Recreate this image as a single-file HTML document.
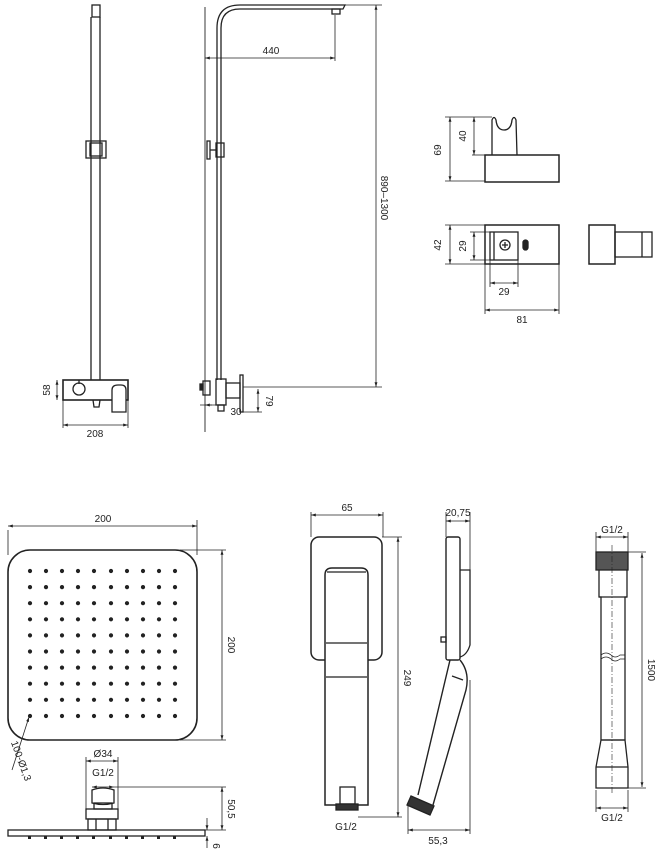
<!DOCTYPE html>
<html><head><meta charset="utf-8"><style>
html,body{margin:0;padding:0;background:#fff;}
svg{display:block;font-family:"Liberation Sans",sans-serif;}
</style></head><body>
<svg width="658" height="852" viewBox="0 0 658 852" xmlns="http://www.w3.org/2000/svg">
<defs>
<marker id="a" viewBox="0 0 10 10" refX="10" refY="5" markerWidth="6" markerHeight="6" orient="auto-start-reverse"><path d="M0,2 L10,5 L0,8 z" fill="#222"/></marker>
</defs>
<g fill="none" stroke="#222" stroke-width="1.3">
<!-- LEFT front column -->
<rect x="92" y="5" width="8" height="12"/>
<line x1="91" y1="17" x2="91" y2="380"/><line x1="100" y1="17" x2="100" y2="380"/>
<rect x="86" y="141" width="20" height="17"/><rect x="90" y="143" width="12" height="13"/>
<rect x="63" y="380" width="65" height="20" stroke-width="1.6"/>
<circle cx="79" cy="389" r="6"/><line x1="79" y1="380" x2="79" y2="384"/>
<path d="M112,412 L112,390 Q112,385 118,385 L121,385 Q126,385 126,390 L126,412 Z" fill="#fff"/>
<path d="M93,400 L94,407 L99,407 L100,400"/>
<!-- 58 -->
<g stroke-width="0.8"><line x1="57" y1="380" x2="57" y2="400" marker-start="url(#a)" marker-end="url(#a)"/>
<line x1="63" y1="400" x2="63" y2="428"/><line x1="128" y1="400" x2="128" y2="428"/>
<line x1="63" y1="425" x2="128" y2="425" marker-start="url(#a)" marker-end="url(#a)"/></g>

<!-- MIDDLE side column -->
<line x1="205" y1="7" x2="205" y2="432" stroke-width="0.9"/>
<path d="M217,380 L217,28 Q217,5 240,5 L345,5 L343,9 L240,9 Q221,9 221,28 L221,380"/>
<rect x="332" y="9" width="8" height="5"/>
<rect x="216" y="143" width="8" height="14"/><rect x="207" y="141" width="3" height="18"/><line x1="210" y1="150" x2="216" y2="150"/>
<rect x="216" y="379" width="10" height="26"/><rect x="226" y="383" width="14" height="15"/><rect x="240" y="375" width="3" height="37"/>
<rect x="203" y="381" width="7" height="14"/><rect x="200" y="384" width="3" height="6" fill="#222"/>
<rect x="218" y="405" width="6" height="6"/>
<g stroke-width="0.8">
<line x1="205" y1="58" x2="335" y2="58" marker-start="url(#a)" marker-end="url(#a)"/>
<line x1="335" y1="15" x2="335" y2="61"/>
<line x1="345" y1="5" x2="382" y2="5"/><line x1="243" y1="387" x2="382" y2="387"/>
<line x1="376" y1="5" x2="376" y2="387" marker-start="url(#a)" marker-end="url(#a)"/>
<line x1="243" y1="412" x2="262" y2="412"/>
<line x1="258" y1="389" x2="258" y2="412" marker-start="url(#a)" marker-end="url(#a)"/>
<line x1="200" y1="405" x2="218" y2="405"/><line x1="212" y1="405" x2="205" y2="405" marker-end="url(#a)"/>
</g>

<!-- Holder top view -->
<rect x="485" y="155" width="74" height="27" stroke-width="1.5"/>
<path d="M492,155 L492,120 Q494,115 496,120 Q497,130 504,130 Q511,130 512,120 Q514,115 516,120 L517,155"/>
<g stroke-width="0.8">
<line x1="450" y1="117" x2="450" y2="181" marker-start="url(#a)" marker-end="url(#a)"/>
<line x1="445" y1="117" x2="492" y2="117"/><line x1="445" y1="181" x2="485" y2="181"/>
<line x1="474" y1="117" x2="474" y2="155" marker-start="url(#a)" marker-end="url(#a)"/>
<line x1="472" y1="155" x2="485" y2="155"/></g>
<!-- Holder front -->
<rect x="485" y="225" width="74" height="39" stroke-width="1.5"/>
<rect x="490" y="232" width="28" height="28"/><line x1="494" y1="232" x2="494" y2="260"/>
<circle cx="505" cy="245" r="5"/><path d="M502,245 H508 M505,242 V248"/>
<rect x="523" y="240" width="5" height="10" rx="2.5" fill="#222"/>
<g stroke-width="0.8">
<line x1="450" y1="225" x2="450" y2="264" marker-start="url(#a)" marker-end="url(#a)"/>
<line x1="445" y1="225" x2="485" y2="225"/><line x1="445" y1="264" x2="485" y2="264"/>
<line x1="474" y1="232" x2="474" y2="260" marker-start="url(#a)" marker-end="url(#a)"/>
<line x1="470" y1="232" x2="490" y2="232"/><line x1="470" y1="260" x2="490" y2="260"/>
<line x1="490" y1="260" x2="490" y2="287"/><line x1="518" y1="260" x2="518" y2="287"/>
<line x1="490" y1="283" x2="518" y2="283" marker-start="url(#a)" marker-end="url(#a)"/>
<line x1="485" y1="264" x2="485" y2="314"/><line x1="559" y1="264" x2="559" y2="314"/>
<line x1="485" y1="310" x2="559" y2="310" marker-start="url(#a)" marker-end="url(#a)"/></g>
<!-- holder side -->
<rect x="589" y="225" width="26" height="39" stroke-width="1.5"/>
<rect x="615" y="232" width="37" height="25"/><line x1="642" y1="232" x2="642" y2="257"/>

<!-- Square head -->
<rect x="8" y="550" width="189" height="190" rx="22" stroke-width="1.6"/>
<g stroke-width="0.8">
<line x1="8" y1="530" x2="8" y2="555"/><line x1="197" y1="520" x2="197" y2="555"/>
<line x1="8" y1="526" x2="197" y2="526" marker-start="url(#a)" marker-end="url(#a)"/>
<line x1="180" y1="550" x2="226" y2="550"/><line x1="180" y1="740" x2="226" y2="740"/>
<line x1="222" y1="550" x2="222" y2="740" marker-start="url(#a)" marker-end="url(#a)"/>
<line x1="12" y1="770" x2="29" y2="717" marker-end="url(#a)"/>
<line x1="86" y1="757" x2="86" y2="812"/><line x1="118" y1="757" x2="118" y2="812"/>
<line x1="86" y1="761" x2="118" y2="761" marker-start="url(#a)" marker-end="url(#a)"/>
<line x1="92" y1="787" x2="114" y2="787" marker-start="url(#a)" marker-end="url(#a)"/>
<line x1="114" y1="787" x2="226" y2="787"/><line x1="205" y1="830" x2="226" y2="830"/>
<line x1="222" y1="787" x2="222" y2="830" marker-start="url(#a)" marker-end="url(#a)"/>
<line x1="207" y1="818" x2="207" y2="830" marker-end="url(#a)"/><line x1="207" y1="848" x2="207" y2="836" marker-end="url(#a)"/>
</g>
<path d="M92,790 L92,803 Q103,806 114,803 L114,790 Q103,786 92,790 Z"/>
<rect x="94" y="803" width="18" height="6"/>
<rect x="86" y="809" width="32" height="10"/><rect x="88" y="819" width="28" height="11"/><line x1="96" y1="819" x2="96" y2="830"/><line x1="108" y1="819" x2="108" y2="830"/>
<rect x="8" y="830" width="197" height="6"/>

<!-- Hand shower front -->
<rect x="311" y="537" width="71" height="123" rx="8" stroke-width="1.5"/>
<path d="M325,805 L325,575 Q325,568 332,568 L361,568 Q368,568 368,575 L368,805 Z" fill="#fff" stroke-width="1.5"/>
<line x1="327" y1="572" x2="366" y2="572"/>
<line x1="326" y1="643" x2="367" y2="643"/><line x1="326" y1="677" x2="367" y2="677"/>
<rect x="340" y="787" width="15" height="17"/>
<rect x="336" y="804" width="22" height="6" fill="#333"/>
<g stroke-width="0.8">
<line x1="311" y1="512" x2="311" y2="537"/><line x1="383" y1="512" x2="383" y2="537"/>
<line x1="311" y1="515" x2="383" y2="515" marker-start="url(#a)" marker-end="url(#a)"/>
<line x1="382" y1="537" x2="402" y2="537"/><line x1="358" y1="817" x2="402" y2="817"/>
<line x1="398" y1="537" x2="398" y2="817" marker-start="url(#a)" marker-end="url(#a)"/></g>

<!-- Hand shower side -->
<rect x="446" y="537" width="14" height="123" rx="2" stroke-width="1.4"/>
<path d="M460,570 L470,570 L470,645 Q467,655 460,657"/>
<path d="M450,660 L418,795 M460,660 Q470,672 466,690 L433,805" stroke-width="1.4"/>
<path d="M452,676 L463,680"/>
<path d="M411,796 L434,806 L430,815 L407,805 Z" fill="#333"/>
<rect x="441" y="637" width="5" height="5"/>
<g stroke-width="0.8">
<line x1="446" y1="512" x2="446" y2="537"/><line x1="470" y1="512" x2="470" y2="570"/>
<line x1="446" y1="521" x2="470" y2="521" marker-start="url(#a)" marker-end="url(#a)"/>
<line x1="408" y1="805" x2="408" y2="834"/><line x1="470" y1="680" x2="470" y2="834"/>
<line x1="408" y1="830" x2="470" y2="830" marker-start="url(#a)" marker-end="url(#a)"/></g>

<!-- Hose -->
<rect x="596" y="552" width="32" height="18" fill="#555"/>
<path d="M599,570 L599,597 L601,597 L601,740 M625,740 L625,597 L627,597 L627,570"/>
<line x1="599" y1="597" x2="627" y2="597"/>
<path d="M601,740 L596,767 L596,788 L628,788 L628,767 L625,740 Z"/>
<line x1="596" y1="767" x2="628" y2="767"/><line x1="601" y1="740" x2="625" y2="740"/>
<path d="M601,655 Q606,651 611,655 Q615,659 620,655 L625,655" stroke-width="0.8"/>
<path d="M601,659 Q606,655 611,659 Q615,663 620,659 L625,659" stroke-width="0.8"/>
<line x1="612" y1="545" x2="612" y2="795" stroke-width="0.6" stroke-dasharray="6,2,1,2"/>
<g stroke-width="0.8">
<line x1="596" y1="532" x2="596" y2="552"/><line x1="628" y1="532" x2="628" y2="552"/>
<line x1="596" y1="537" x2="628" y2="537" marker-start="url(#a)" marker-end="url(#a)"/>
<line x1="628" y1="552" x2="646" y2="552"/><line x1="628" y1="788" x2="646" y2="788"/>
<line x1="642" y1="553" x2="642" y2="787" marker-start="url(#a)" marker-end="url(#a)"/>
<line x1="596" y1="790" x2="596" y2="812"/><line x1="628" y1="790" x2="628" y2="812"/>
<line x1="596" y1="808" x2="628" y2="808" marker-start="url(#a)" marker-end="url(#a)"/></g>
</g>

<!-- dots -->
<g fill="#222">
<g id="row">
<circle cx="30" cy="571" r="2.1"/><circle cx="46" cy="571" r="2.1"/><circle cx="62" cy="571" r="2.1"/><circle cx="78" cy="571" r="2.1"/><circle cx="94" cy="571" r="2.1"/><circle cx="111" cy="571" r="2.1"/><circle cx="127" cy="571" r="2.1"/><circle cx="143" cy="571" r="2.1"/><circle cx="159" cy="571" r="2.1"/><circle cx="175" cy="571" r="2.1"/>
</g>
<use href="#row" y="16.1"/><use href="#row" y="32.2"/><use href="#row" y="48.3"/><use href="#row" y="64.4"/><use href="#row" y="80.5"/><use href="#row" y="96.6"/><use href="#row" y="112.7"/><use href="#row" y="128.8"/><use href="#row" y="145"/>
<rect x="28" y="836" width="3" height="3"/><rect x="44" y="836" width="3" height="3"/><rect x="60" y="836" width="3" height="3"/><rect x="76" y="836" width="3" height="3"/><rect x="92" y="836" width="3" height="3"/><rect x="109" y="836" width="3" height="3"/><rect x="125" y="836" width="3" height="3"/><rect x="141" y="836" width="3" height="3"/><rect x="157" y="836" width="3" height="3"/><rect x="173" y="836" width="3" height="3"/>
</g>

<!-- text -->
<g fill="#222" font-size="10">
<text x="50" y="390" transform="rotate(-90 50 390)" text-anchor="middle">58</text>
<text x="95" y="437" text-anchor="middle">208</text>
<text x="271" y="54" text-anchor="middle">440</text>
<text x="381" y="198" transform="rotate(90 381 198)" text-anchor="middle">890–1300</text>
<text x="266" y="401" transform="rotate(90 266 401)" text-anchor="middle">79</text>
<text x="236" y="415" text-anchor="middle">30</text>
<text x="441" y="150" transform="rotate(-90 441 150)" text-anchor="middle">69</text>
<text x="466" y="136" transform="rotate(-90 466 136)" text-anchor="middle">40</text>
<text x="441" y="245" transform="rotate(-90 441 245)" text-anchor="middle">42</text>
<text x="466" y="246" transform="rotate(-90 466 246)" text-anchor="middle">29</text>
<text x="504" y="295" text-anchor="middle">29</text>
<text x="522" y="323" text-anchor="middle">81</text>
<text x="103" y="522" text-anchor="middle">200</text>
<text x="228" y="645" transform="rotate(90 228 645)" text-anchor="middle">200</text>
<text x="18" y="762" transform="rotate(70 18 762)" text-anchor="middle">100-Ø1,3</text>
<text x="103" y="757" text-anchor="middle">Ø34</text>
<text x="103" y="776" text-anchor="middle">G1/2</text>
<text x="228" y="809" transform="rotate(90 228 809)" text-anchor="middle">50,5</text>
<text x="213" y="846" transform="rotate(90 213 846)" text-anchor="middle">6</text>
<text x="347" y="511" text-anchor="middle">65</text>
<text x="404" y="678" transform="rotate(90 404 678)" text-anchor="middle">249</text>
<text x="346" y="830" text-anchor="middle">G1/2</text>
<text x="458" y="516" text-anchor="middle">20,75</text>
<text x="438" y="844" text-anchor="middle">55,3</text>
<text x="612" y="533" text-anchor="middle">G1/2</text>
<text x="648" y="670" transform="rotate(90 648 670)" text-anchor="middle">1500</text>
<text x="612" y="821" text-anchor="middle">G1/2</text>
</g>
</svg>
</body></html>
